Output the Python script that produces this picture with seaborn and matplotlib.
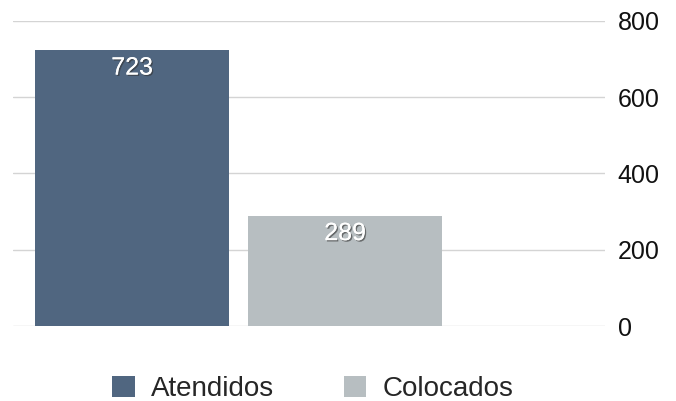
import matplotlib
matplotlib.use("Agg")
import matplotlib.pyplot as plt
import matplotlib.patheffects as pe
from matplotlib.patches import Patch
import seaborn as sns
import pandas as pd

# datos
categorias = ["Atendidos", "Colocados"]
valores = [723, 289]
colores = ["#506680", "#b7bec1"]
yticks = [0, 200, 400, 600, 800]

sns.set_style("white")
plt.rcParams["font.family"] = ["Liberation Sans", "DejaVu Sans"]

df = pd.DataFrame({"cat": categorias, "val": valores})

fig = plt.figure(figsize=(6.76, 4.01), dpi=100)
ax = fig.add_axes([0.019, 0.187, 0.876, 0.761])

sns.barplot(data=df, x="cat", y="val", hue="cat", palette=colores,
            width=0.91, legend=False, ax=ax, zorder=3,
            edgecolor="none", saturation=1)

ax.set_ylim(0, 800)
ax.set_xlim(-0.56, 2.22)
ax.set_yticks(yticks)
ax.yaxis.tick_right()
ax.tick_params(axis="y", length=0, pad=9, labelsize=18, labelcolor="#111111")
ax.set_xticks([])
ax.set_xlabel("")
ax.set_ylabel("")
ax.grid(axis="y", color="#d4d4d4", lw=1, zorder=0)
for s in ax.spines.values():
    s.set_visible(False)

for i, v in enumerate(valores):
    ax.text(i, v - 14, str(v), ha="center", va="top", fontsize=18, color="white",
            zorder=5,
            path_effects=[pe.withSimplePatchShadow(offset=(1, -1), shadow_rgbFace="#333333", alpha=0.6),
                          pe.Normal()])

handles = [Patch(facecolor=c, edgecolor="none") for c in colores]
fig.legend(handles, categorias, loc="lower center", bbox_to_anchor=(0.463, -0.065),
           ncol=2, frameon=False, fontsize=20, handlelength=0.8, handleheight=0.8,
           columnspacing=2.5, handletextpad=0.6)

fig.savefig("out.png", dpi=100)
